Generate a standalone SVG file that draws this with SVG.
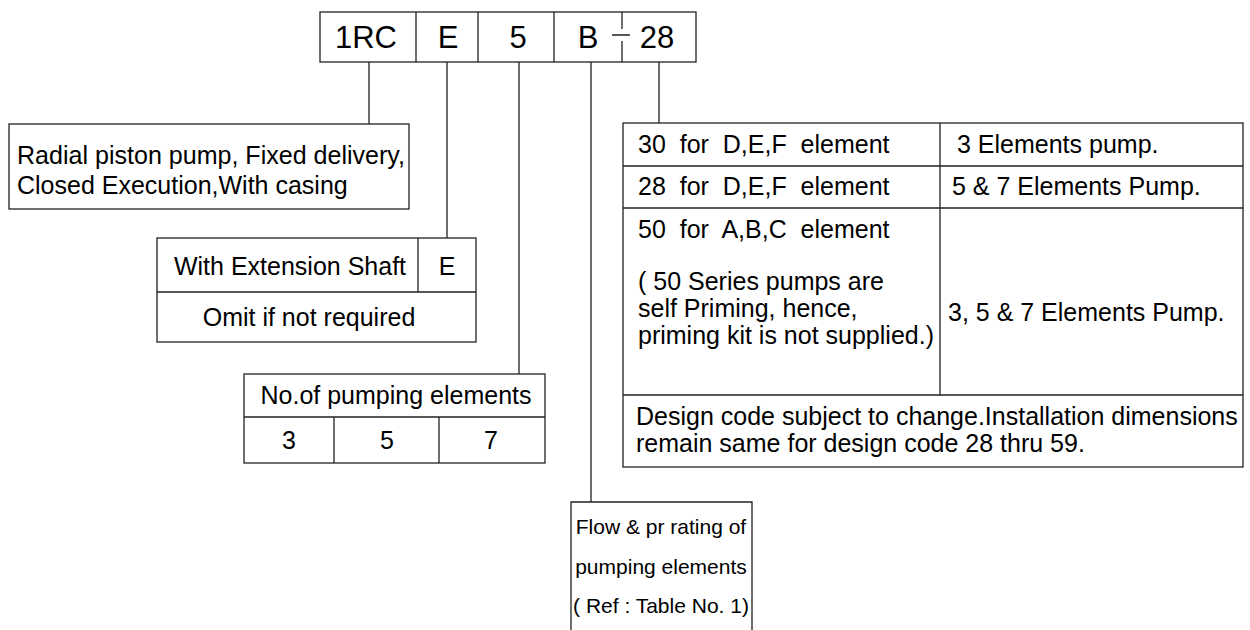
<svg xmlns="http://www.w3.org/2000/svg" width="1250" height="630" viewBox="0 0 1250 630">
<style>
.b{fill:#fff;stroke:#222;stroke-width:1.3}
.l{fill:none;stroke:#222;stroke-width:1.3}
text{font-family:"Liberation Sans",Arial,sans-serif;font-size:25px;fill:#000}
.big{font-size:31px}
.sm{font-size:21px}
.c{text-anchor:middle}
</style>
<rect width="1250" height="630" fill="#fff"/>
<g id="code">
<rect class="b" x="320" y="12" width="376" height="50"/>
<path class="l" d="M416 12V62M478 12V62M554 12V62M622 12V29M622 41V62M612 35H630"/>
<text class="big c" x="366" y="48">1RC</text>
<text class="big c" x="448" y="48">E</text>
<text class="big c" x="518" y="48">5</text>
<text class="big c" x="588" y="48">B</text>
<text class="big c" x="657" y="48">28</text>
</g>
<g id="connectors">
<path class="l" d="M369 62V124M447 62V238M519 62V374M591 62V502M659 62V123"/>
</g>
<g id="type">
<rect class="b" x="9" y="124" width="400" height="85"/>
<text x="17" y="164" textLength="388" lengthAdjust="spacingAndGlyphs">Radial piston pump, Fixed delivery,</text>
<text x="17" y="194">Closed Execution,With casing</text>
</g>
<g id="shaft">
<rect class="b" x="157" y="238" width="319" height="104"/>
<path class="l" d="M157 292H476M418 238V292"/>
<text class="c" x="290" y="275">With Extension Shaft</text>
<text class="c" x="447" y="275">E</text>
<text class="c" x="309" y="326">Omit if not required</text>
</g>
<g id="elements">
<rect class="b" x="244" y="374" width="301" height="89"/>
<path class="l" d="M244 417H545M334 417V463M439 417V463"/>
<text class="c" x="396" y="404">No.of pumping elements</text>
<text class="c" x="289" y="449">3</text>
<text class="c" x="387" y="449">5</text>
<text class="c" x="491" y="449">7</text>
</g>
<g id="design">
<rect class="b" x="623" y="123" width="620" height="344"/>
<path class="l" d="M623 166H1243M623 208H1243M623 395H1243M940 123V395"/>
<text x="638" y="153" xml:space="preserve">30  for  D,E,F  element</text>
<text x="957" y="153">3 Elements pump.</text>
<text x="638" y="195" xml:space="preserve">28  for  D,E,F  element</text>
<text x="952" y="195">5 &amp; 7 Elements Pump.</text>
<text x="638" y="238" xml:space="preserve">50  for  A,B,C  element</text>
<text x="638" y="290">( 50 Series pumps are</text>
<text x="638" y="317">self Priming, hence,</text>
<text x="638" y="344">priming kit is not supplied.)</text>
<text x="948" y="321">3, 5 &amp; 7 Elements Pump.</text>
<text x="636" y="425">Design code subject to change.Installation dimensions</text>
<text x="636" y="452">remain same for design code 28 thru 59.</text>
</g>
<g id="flow">
<path class="b" d="M571 632V502H752V632"/>
<text class="sm c" x="661" y="534">Flow &amp; pr rating of</text>
<text class="sm c" x="661" y="574">pumping elements</text>
<text class="sm c" x="661" y="613">( Ref : Table No. 1)</text>
</g>
</svg>
